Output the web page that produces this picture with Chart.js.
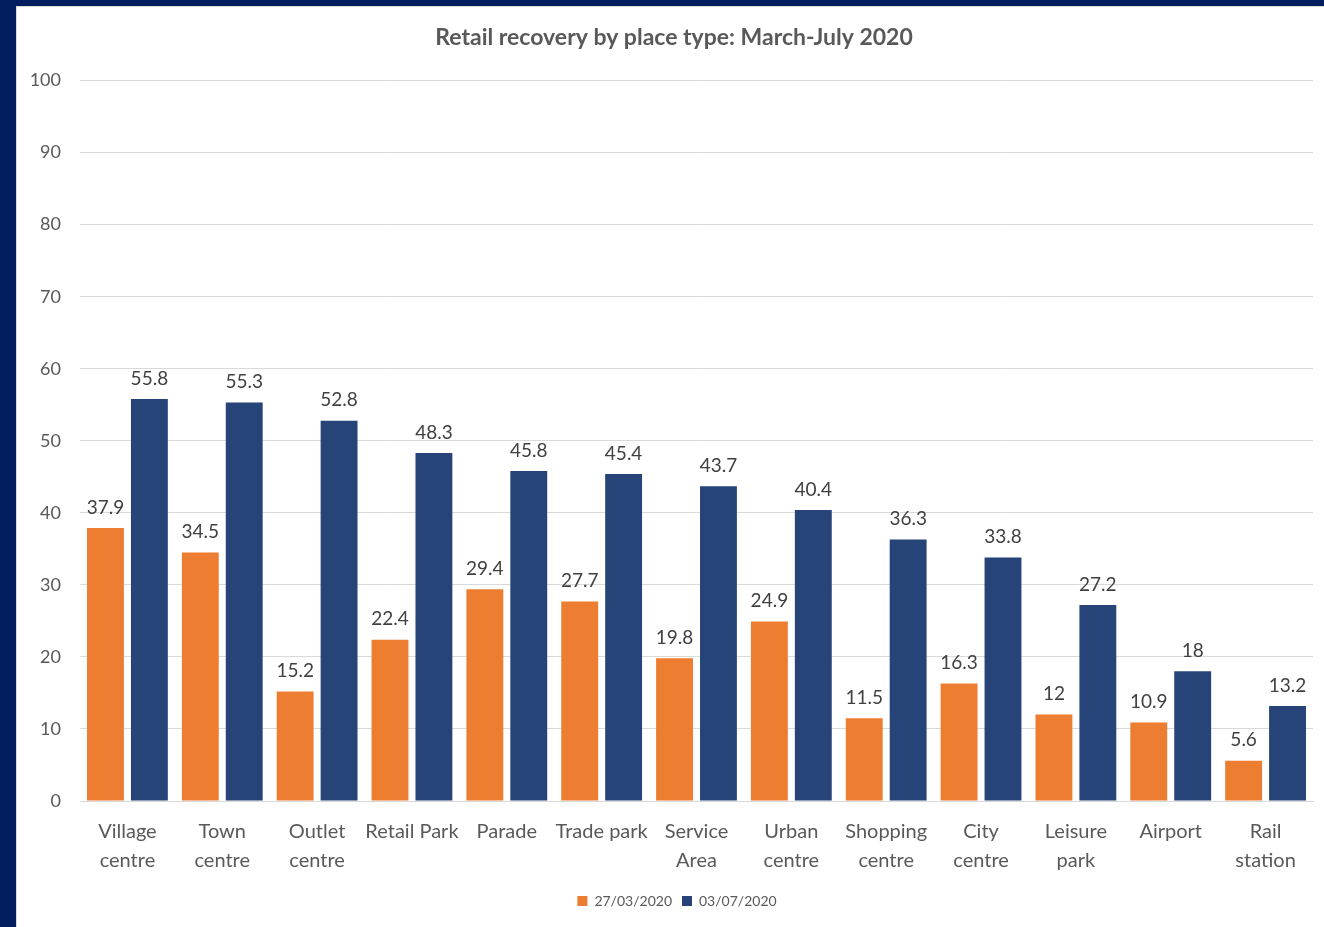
<!DOCTYPE html>
<html>
<head>
<meta charset="utf-8">
<script src="https://cdn.jsdelivr.net/npm/chart.js@4"></script>
<style>
  html, body { margin: 0; padding: 0; background: #ffffff; }
  body { width: 1324px; height: 927px; overflow: hidden; position: relative; }
  #frame { position: absolute; left: 0; top: 0; width: 1324px; height: 927px; background: #021e5e; }
  #box { position: absolute; left: 16px; top: 6px; width: 1308px; height: 921px; background: #fff; border-left: 1px solid #d9d9d9; border-top: 1px solid #d9d9d9; box-sizing: border-box; }
  #wrap { position: absolute; left: 0; top: 0; width: 1307px; height: 920px; }
</style>
</head>
<body>
<div id="frame"></div>
<div id="box"><div id="wrap"><canvas id="retail"></canvas></div></div>
<script>
const places = [
  ['Village', 'centre'], ['Town', 'centre'], ['Outlet', 'centre'], 'Retail Park', 'Parade',
  'Trade park', ['Service', 'Area'], ['Urban', 'centre'], ['Shopping', 'centre'],
  ['City', 'centre'], ['Leisure', 'park'], 'Airport', ['Rail', 'station']
];
const march = [37.9, 34.5, 15.2, 22.4, 29.4, 27.7, 19.8, 24.9, 11.5, 16.3, 12, 10.9, 5.6];
const july = [55.8, 55.3, 52.8, 48.3, 45.8, 45.4, 43.7, 40.4, 36.3, 33.8, 27.2, 18, 13.2];
const seriesNames = ['27/03/2020', '03/07/2020'];

const FONT = 'Lato, "Open Sans", sans-serif';

// draws the value above every bar
const valueLabels = {
  id: 'valueLabels',
  afterDatasetsDraw(chart) {
    const ctx = chart.ctx;
    ctx.save();
    ctx.font = '19px ' + FONT;
    ctx.fillStyle = '#404040';
    ctx.textAlign = 'center';
    ctx.textBaseline = 'bottom';
    chart.data.datasets.forEach((ds, i) => {
      chart.getDatasetMeta(i).data.forEach((bar, j) => {
        ctx.fillText(String(ds.data[j]), bar.x, bar.y - 11);
      });
    });
    ctx.restore();
  }
};

// title and legend sit a bit right of the canvas centre in the original
const nudge = {
  id: 'nudge',
  afterLayout(chart) {
    if (chart.titleBlock) chart.titleBlock.left += 18;
    if (chart.legend) chart.legend.left += 24;
  }
};

new Chart(document.getElementById('retail'), {
  type: 'bar',
  data: {
    labels: places,
    datasets: [
      { label: seriesNames[0], data: march, backgroundColor: '#ed7d31',
        categoryPercentage: 0.926, barPercentage: 0.84 },
      { label: seriesNames[1], data: july, backgroundColor: '#264478',
        categoryPercentage: 0.926, barPercentage: 0.84 }
    ]
  },
  options: {
    responsive: true,
    maintainAspectRatio: false,
    animation: false,
    layout: { padding: { left: 0, right: 11, top: 0, bottom: 9 } },
    plugins: {
      title: {
        display: true,
        text: 'Retail recovery by place type: March-July 2020',
        color: '#595959',
        font: { family: FONT, size: 23, weight: 'bold' },
        padding: { top: 17, bottom: 29 }
      },
      legend: {
        position: 'bottom',
        labels: {
          color: '#595959',
          font: { family: FONT, size: 14 },
          boxWidth: 10, boxHeight: 10,
          padding: 10
        }
      },
      tooltip: { enabled: false }
    },
    scales: {
      x: {
        grid: { display: false },
        border: { color: '#d9d9d9', width: 1 },
        ticks: {
          color: '#595959',
          font: { family: FONT, size: 20, lineHeight: 1.45 },
          maxRotation: 0, autoSkip: false, padding: 8
        },
        afterFit(scale) { scale.height = 83; }
      },
      y: {
        min: 0, max: 100,
        grid: { color: '#d9d9d9', drawTicks: false },
        border: { display: false },
        ticks: {
          stepSize: 10,
          color: '#595959',
          font: { family: FONT, size: 18 },
          padding: 19
        },
        afterFit(scale) { scale.width = 63; }
      }
    }
  },
  plugins: [valueLabels, nudge]
});
</script>
</body>
</html>
